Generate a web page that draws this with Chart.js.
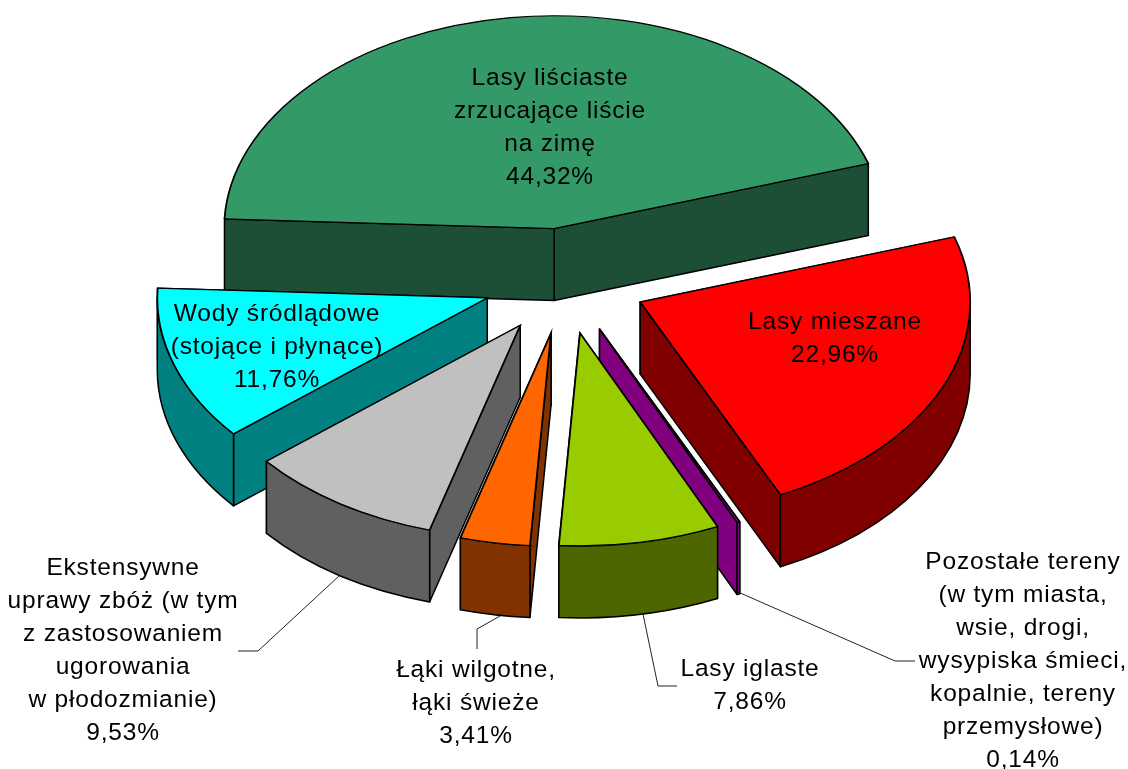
<!DOCTYPE html>
<html>
<head>
<meta charset="utf-8">
<style>
  html, body { margin: 0; padding: 0; background: #fff; }
  canvas { display: block; }
</style>
<script src="https://cdn.jsdelivr.net/npm/chart.js@4"></script>
</head>
<body>
<canvas id="landChart" width="1128" height="769"></canvas>
<script>
const categories = [
  'Lasy liściaste zrzucające liście na zimę',
  'Lasy mieszane',
  'Pozostałe tereny (w tym miasta, wsie, drogi, wysypiska śmieci, kopalnie, tereny przemysłowe)',
  'Lasy iglaste',
  'Łąki wilgotne, łąki świeże',
  'Ekstensywne uprawy zbóż (w tym z zastosowaniem ugorowania w płodozmianie)',
  'Wody śródlądowe (stojące i płynące)'
];
const shares = [44.32, 22.96, 0.14, 7.86, 3.41, 9.53, 11.76];
const labelLines = [
  ['Lasy liściaste', 'zrzucające liście', 'na zimę'],
  ['Lasy mieszane'],
  ['Pozostałe tereny', '(w tym miasta,', 'wsie, drogi,', 'wysypiska śmieci,', 'kopalnie, tereny', 'przemysłowe)'],
  ['Lasy iglaste'],
  ['Łąki wilgotne,', 'łąki świeże'],
  ['Ekstensywne', 'uprawy zbóż (w tym', 'z zastosowaniem', 'ugorowania', 'w płodozmianie)'],
  ['Wody śródlądowe', '(stojące i płynące)']
];

// styles
const topColors = ['#339966', '#ff0000', '#800080', '#99cc00', '#ff6600', '#c0c0c0', '#00ffff'];
const sideColors = ['#1c4f35', '#800000', '#800080', '#4d6600', '#803300', '#606060', '#008080'];

// fake 3d view
const squash = 0.645;
const depth = 72;
const explode = 82;
const centerX = 565;
const centerY = 281;

// label anchors: center x, first baseline
const labelPos = [[550, 85], [835, 329], [1023, 569], [750, 676], [476, 677], [123, 575], [277, 321]];
const lineGap = 33;
const leaders = [
  [[339, 576], [258, 651], [238, 651]],
  [[500, 616], [477, 629], [477, 649]],
  [[643, 614], [658, 686], [677, 686]],
  [[738, 592], [895, 661], [915, 661]]
];

const pie3d = {
  id: 'pie3d',
  afterDatasetsUpdate(chart) {
    chart.getDatasetMeta(0).data.forEach(arc => {
      const mid = (arc.startAngle + arc.endAngle) / 2;
      arc.x += Math.cos(mid) * explode;
      arc.y += Math.sin(mid) * explode;
    });
  },
  beforeDatasetsDraw(chart) {
    const ctx = chart.ctx;
    const shiftX = centerX - chart.width / 2;
    const shiftY = centerY - squash * chart.height / 2;
    const data = chart.getDatasetMeta(0).data;

    ctx.save();
    ctx.strokeStyle = '#000';
    ctx.lineWidth = 1.5;
    ctx.lineJoin = 'round';

    // side walls, back slices first
    data.slice().sort((a, b) => a.y - b.y).forEach(arc => {
      const x = arc.x + shiftX;
      const y = arc.y * squash + shiftY;
      const r = arc.outerRadius;
      ctx.fillStyle = sideColors[data.indexOf(arc)];

      // the two cut faces, the one further back goes first
      [arc.startAngle, arc.endAngle]
        .sort((a, b) => Math.sin(a) - Math.sin(b))
        .forEach(angle => {
          const cx = x + Math.cos(angle) * r;
          const cy = y + Math.sin(angle) * r * squash;
          ctx.beginPath();
          ctx.moveTo(x, y);
          ctx.lineTo(cx, cy);
          ctx.lineTo(cx, cy + depth);
          ctx.lineTo(x, y + depth);
          ctx.closePath();
          ctx.fill();
          ctx.stroke();
        });

      // rim, only the part facing the viewer
      for (const turn of [-2, 0, 2]) {
        const from = Math.max(arc.startAngle, turn * Math.PI);
        const to = Math.min(arc.endAngle, (turn + 1) * Math.PI);
        if (to <= from) continue;
        ctx.beginPath();
        ctx.ellipse(x, y, r, r * squash, 0, from, to);
        ctx.ellipse(x, y + depth, r, r * squash, 0, to, from, true);
        ctx.closePath();
        ctx.fill();
        ctx.stroke();
      }
    });

    // tops are drawn by the pie controller itself, squashed
    ctx.translate(shiftX, shiftY);
    ctx.scale(1, squash);
  },
  afterDatasetsDraw(chart) {
    const ctx = chart.ctx;
    ctx.restore();

    ctx.strokeStyle = '#222';
    ctx.lineWidth = 1;
    leaders.forEach(line => {
      ctx.beginPath();
      line.forEach((p, i) => i ? ctx.lineTo(p[0], p[1]) : ctx.moveTo(p[0], p[1]));
      ctx.stroke();
    });

    ctx.fillStyle = '#000';
    ctx.font = '24.5px "Liberation Sans", Arial, sans-serif';
    ctx.letterSpacing = '0.8px';
    ctx.textAlign = 'center';
    ctx.textBaseline = 'alphabetic';
    labelLines.forEach((lines, i) => {
      const text = lines.concat(shares[i].toFixed(2).replace('.', ',') + '%');
      text.forEach((t, n) => ctx.fillText(t, labelPos[i][0], labelPos[i][1] + n * lineGap));
    });
  }
};

new Chart(document.getElementById('landChart'), {
  type: 'pie',
  data: {
    labels: categories,
    datasets: [{
      data: shares,
      backgroundColor: topColors,
      borderColor: '#000',
      borderWidth: 1.8,
      borderJoinStyle: 'miter',
      clip: false
    }]
  },
  options: {
    responsive: false,
    animation: false,
    events: [],
    rotation: 272.6,
    radius: 330,
    layout: { padding: 0 },
    plugins: {
      legend: { display: false },
      tooltip: { enabled: false }
    }
  },
  plugins: [pie3d]
});
</script>
</body>
</html>
